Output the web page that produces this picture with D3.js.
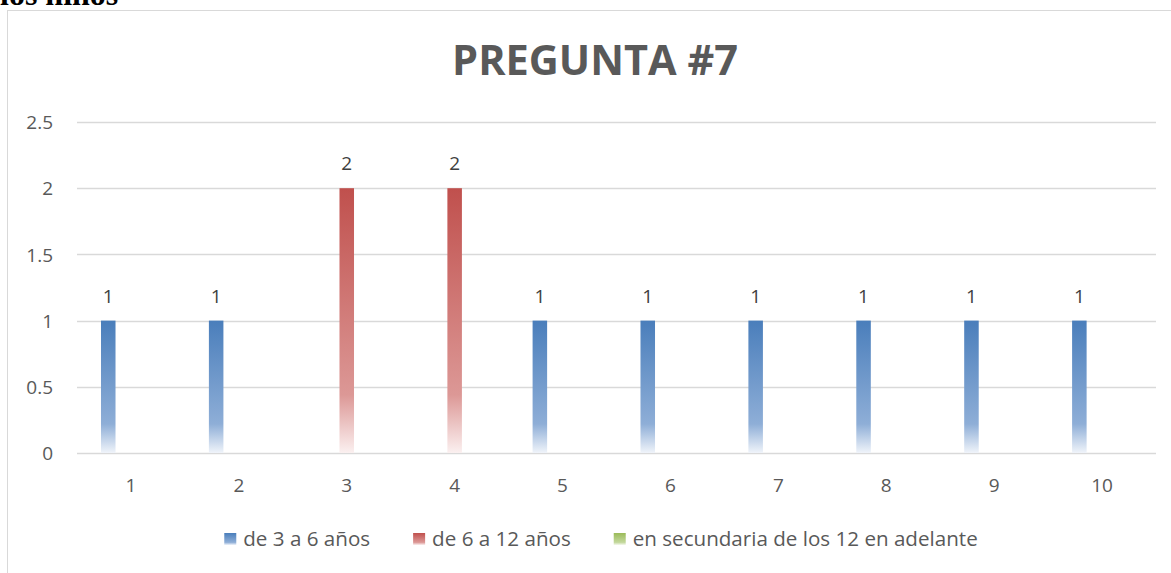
<!DOCTYPE html>
<html lang="es">
<head>
<meta charset="utf-8">
<title>Pregunta #7</title>
<script src="https://cdnjs.cloudflare.com/ajax/libs/d3/7.8.5/d3.min.js"></script>
<style>
  body { margin: 0; background: #fff; }
  svg { display: block; }
  text { font-family: "Open Sans", "Noto Sans", sans-serif; fill: #595959; }
</style>
</head>
<body>
<svg id="chart" width="1171" height="573"></svg>
<script>
// datos
var categorias = ["1", "2", "3", "4", "5", "6", "7", "8", "9", "10"];
var series = ["de 3 a 6 años", "de 6 a 12 años", "en secundaria de los 12 en adelante"];
var serie1 = [1, 1, 0, 0, 1, 1, 1, 1, 1, 1];
var serie2 = [0, 0, 2, 2, 0, 0, 0, 0, 0, 0];
var serie3 = [0, 0, 0, 0, 0, 0, 0, 0, 0, 0];
var yTicks = [0, 0.5, 1, 1.5, 2, 2.5];

var valores = [serie1, serie2, serie3];
var colores = [
  ["#4a7ebb", "#8eaed7", "#f0f4fa"],
  ["#c0504d", "#dc9896", "#fbf0f0"],
  ["#9bbb59", "#c3d89c", "#f5f9ee"]
];

var svg = d3.select("#chart");

// texto cortado de la pagina original
svg.append("text")
  .attr("x", 0).attr("y", 5)
  .style("font-family", "'Liberation Serif', serif")
  .style("font-weight", "bold")
  .style("font-size", "32px")
  .style("fill", "#000")
  .text("los niños");

// borde del grafico
svg.append("rect")
  .attr("x", 7.5).attr("y", 10.5)
  .attr("width", 1200).attr("height", 600)
  .attr("fill", "none")
  .attr("stroke", "#d9d9d9");

var defs = svg.append("defs");
colores.forEach(function(c, i) {
  var g = defs.append("linearGradient")
    .attr("id", "grad" + i)
    .attr("x1", 0).attr("y1", 0).attr("x2", 0).attr("y2", 1);
  g.append("stop").attr("offset", "0%").attr("stop-color", c[0]);
  g.append("stop").attr("offset", "78%").attr("stop-color", c[1]);
  g.append("stop").attr("offset", "100%").attr("stop-color", c[2]);
});

var plotLeft = 77, plotRight = 1156, plotTop = 122, plotBottom = 453;

var x0 = d3.scaleBand()
  .domain(categorias)
  .range([plotLeft, plotRight])
  .paddingInner(0.369)
  .paddingOuter(0.1845);

var x1 = d3.scaleBand()
  .domain(d3.range(series.length))
  .range([0, x0.bandwidth()])
  .paddingInner(0.36)
  .paddingOuter(0.18);

var y = d3.scaleLinear()
  .domain([0, 2.5])
  .range([plotBottom, plotTop]);

// lineas de cuadricula
svg.append("g")
  .selectAll("line")
  .data(yTicks)
  .enter()
  .append("line")
  .attr("x1", plotLeft).attr("x2", plotRight)
  .attr("y1", d => Math.round(y(d)) + 0.5)
  .attr("y2", d => Math.round(y(d)) + 0.5)
  .attr("stroke", "#d9d9d9")
  .attr("stroke-width", 1.3);

// eje y
var yAxis = svg.append("g")
  .attr("transform", "translate(" + (plotLeft - 24) + ",0)")
  .call(d3.axisLeft(y).tickValues(yTicks).tickSize(0).tickPadding(0).tickFormat(d3.format("")));
yAxis.select(".domain").remove();
yAxis.selectAll("text")
  .style("font-size", "19px")
  .style("fill", "#595959")
  .attr("dy", "0.35em");

// eje x
var xAxis = svg.append("g")
  .attr("transform", "translate(0," + (plotBottom + 26) + ")")
  .call(d3.axisBottom(x0).tickSize(0).tickPadding(0));
xAxis.select(".domain").remove();
xAxis.selectAll("text")
  .style("font-size", "19px")
  .style("fill", "#595959")
  .attr("dy", "0.7em");

// barras
var grupos = svg.append("g")
  .selectAll("g")
  .data(categorias)
  .enter()
  .append("g")
  .attr("transform", d => "translate(" + x0(d) + ",0)");

grupos.selectAll("rect")
  .data((d, i) => valores.map((v, s) => ({ s: s, v: v[i] })))
  .enter()
  .append("rect")
  .attr("x", d => x1(d.s))
  .attr("width", x1.bandwidth())
  .attr("y", d => y(d.v))
  .attr("height", d => y(0) - y(d.v))
  .style("fill", d => "url(#grad" + d.s + ")");

// etiquetas de datos
grupos.selectAll("text.valor")
  .data((d, i) => valores.map((v, s) => ({ s: s, v: v[i] })).filter(d => d.v > 0))
  .enter()
  .append("text")
  .attr("class", "valor")
  .attr("x", d => x1(d.s) + x1.bandwidth() / 2)
  .attr("y", d => y(d.v) - 18)
  .attr("text-anchor", "middle")
  .style("font-size", "19px")
  .style("fill", "#404040")
  .text(d => d.v);

// titulo
svg.append("text")
  .attr("x", 595).attr("y", 75)
  .attr("text-anchor", "middle")
  .style("font-size", "41.5px")
  .style("font-weight", "bold")
  .style("fill", "#595959")
  .text("PREGUNTA #7");

// leyenda
var leyenda = svg.append("g");
var items = leyenda.selectAll("g")
  .data(series)
  .enter()
  .append("g");
items.append("rect")
  .attr("width", 12).attr("height", 12)
  .attr("y", -13)
  .style("fill", (d, i) => "url(#grad" + i + ")");
items.append("text")
  .attr("x", 19)
  .style("font-size", "20.6px")
  .text(d => d);

var pos = 0;
items.each(function() {
  var w = this.getBBox().width;
  d3.select(this).attr("transform", "translate(" + pos + ",546)");
  pos += w + 43;
});
pos -= 43;
leyenda.attr("transform", "translate(" + (601 - pos / 2) + ",0)");
</script>
</body>
</html>
